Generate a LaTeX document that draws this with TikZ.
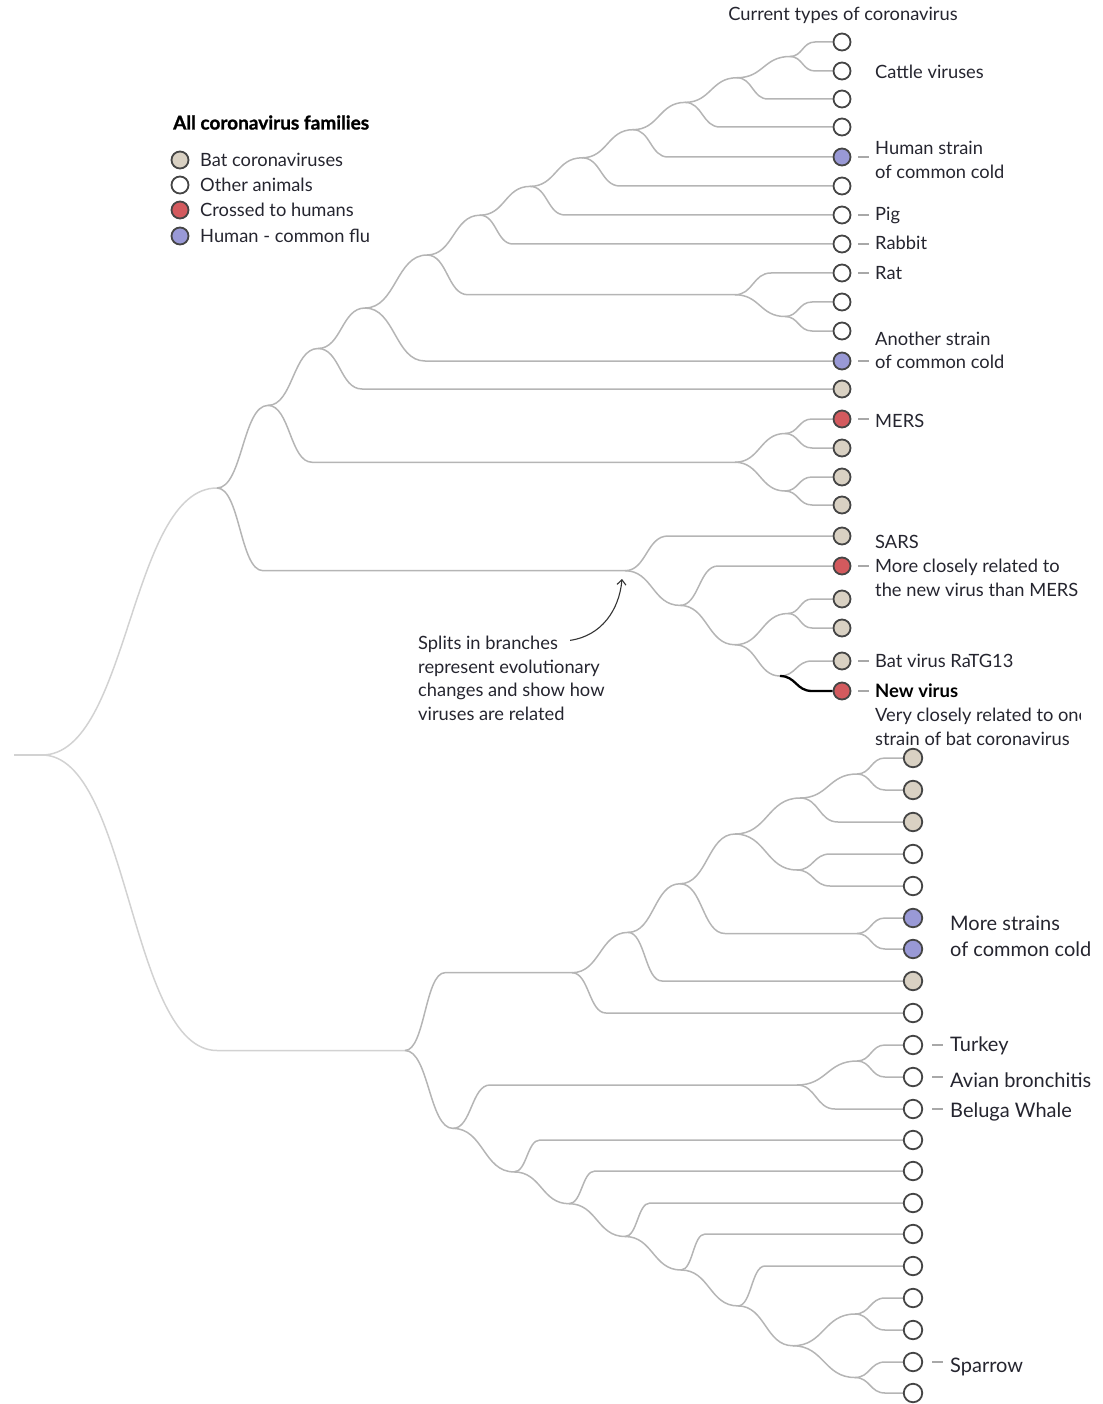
\documentclass[tikz,border=0pt]{standalone}
\usepackage{fontspec}
\setmainfont{Lato}
\newfontfamily\heavyfont{Lato}[BoldFeatures={FakeBold=1.2}]
\usetikzlibrary{calc,backgrounds,arrows.meta}
\definecolor{batc}{HTML}{D9D1C3}
\definecolor{redc}{HTML}{D35A5E}
\definecolor{bluc}{HTML}{9999D6}
\definecolor{edgec}{HTML}{B5B5B5}
\definecolor{rootc}{HTML}{D2D2D2}
\definecolor{ringc}{HTML}{454545}
\definecolor{txtc}{HTML}{25252F}
\definecolor{dashc}{HTML}{A8A8A8}
\definecolor{arrc}{HTML}{333333}
\newcommand\brlink[4][]{\draw[br,#1] let \p1=(#2),\p2=(#4) in (\p1) .. controls ({(\x1+#3pt)/2},\y1) and ({(\x1+#3pt)/2},\y2) .. ({#3pt},\y2) -- (#4);}
\begin{document}
\begin{tikzpicture}[x=1pt,y=-1pt,
  br/.style={draw=edgec,line width=1.5pt},
  leaf/.style={circle,draw=ringc,line width=1.8pt,minimum size=17pt,inner sep=0pt},
  leafb/.style={leaf,minimum size=18.5pt},
  lab/.style={anchor=base west,inner sep=0pt,text=txtc,font=\fontsize{18.3}{22}\selectfont},
  labb/.style={lab,font=\fontsize{20}{24}\selectfont},
  dashl/.style={draw=dashc,line width=1.2pt},
  annarr/.style={draw=arrc,line width=1.1pt,-{Straight Barb[length=5pt,width=9pt]}}]
\useasboundingbox (0,0) rectangle (1102,1404);

% ---------- legend ----------
\node[lab,font=\fontsize{19}{22}\heavyfont\bfseries,text=black] (legtitle) at (173,129.5) {All coronavirus families};
\node[leaf,fill=batc] (lg1) at (180,160) {};
\node[leaf,fill=white] (lg2) at (180,185) {};
\node[leaf,fill=redc] (lg3) at (180,210) {};
\node[leaf,fill=bluc] (lg4) at (180,236) {};
\node[lab] (lgt1) at (200,166.5) {Bat coronaviruses};
\node[lab] (lgt2) at (200,191.5) {Other animals};
\node[lab] (lgt3) at (200,216.5) {Crossed to humans};
\node[lab] (lgt4) at (200,242.5) {Human - common flu};

% ---------- header ----------
\node[lab,anchor=base] (header) at (843,20.5) {Current types of coronavirus};

% ---------- top leaves ----------
\foreach \n/\yy/\fc in {0/42/white,1/71/white,2/99/white,3/127/white,4/157/bluc,5/186/white,6/215/white,7/244/white,8/273/white,9/302/white,10/331/white,11/361/bluc,12/389/batc,13/419/redc,14/448/batc,15/477/batc,16/505/batc,17/536/batc,18/566/redc,19/599/batc,20/628/batc,21/661/batc,22/691/redc}
  \node[leaf,fill=\fc] (t\n) at (842,\yy) {};

% ---------- bottom leaves ----------
\foreach \n/\yy/\fc in {0/758/batc,1/790/batc,2/822/batc,3/854/white,4/886/white,5/918/bluc,6/949/bluc,7/981/batc,8/1013/white,9/1045/white,10/1077/white,11/1109/white,12/1140/white,13/1171/white,14/1203/white,15/1234/white,16/1266/white,17/1298/white,18/1330/white,19/1362/white,20/1393/white}
  \node[leafb,fill=\fc] (b\n) at (913,\yy) {};

% ---------- junctions ----------
\coordinate (stem) at (14,755);
\coordinate (root) at (42,755);
\coordinate (A) at (217,488);
\coordinate (B) at (268,405.4);
\coordinate (C) at (318,348.5);
\coordinate (D) at (365,308);
\coordinate (N10) at (427,255);
\coordinate (N7) at (480,215.2);
\coordinate (N6) at (530,186.4);
\coordinate (N5) at (582,157.8);
\coordinate (N4) at (633,129.7);
\coordinate (N3) at (685,102.4);
\coordinate (N2) at (737,77.75);
\coordinate (N1) at (790,56.5);
\coordinate (R) at (735,294.75);
\coordinate (R2) at (785,316.5);
\coordinate (M) at (735,462.25);
\coordinate (M1) at (785,433.5);
\coordinate (M2) at (785,491);
\coordinate (S) at (625,570.7);
\coordinate (S2) at (680,605.4);
\coordinate (S3) at (735,644.75);
\coordinate (S4) at (788,613.5);
\coordinate (S5) at (780,676);
\coordinate (Bt) at (405,1050.5);
\coordinate (Q8) at (572,972.7);
\coordinate (Q7) at (628,932.4);
\coordinate (Q6) at (680,883.75);
\coordinate (Q4) at (735,834);
\coordinate (Q2) at (800,798);
\coordinate (Q1) at (857,774);
\coordinate (Q34) at (797,870);
\coordinate (Q56) at (857,933.5);
\coordinate (L) at (453,1128.4);
\coordinate (T) at (797,1085);
\coordinate (T1) at (857,1061);
\coordinate (L2) at (514,1171.9);
\coordinate (L3) at (569,1203.7);
\coordinate (L4) at (625,1236.5);
\coordinate (L5) at (681,1270);
\coordinate (L6) at (738,1305.9);
\coordinate (L7) at (793,1345.75);
\coordinate (L8) at (855,1314);
\coordinate (L9) at (855,1377.5);

% ---------- branches ----------
\begin{pgfonlayer}{background}
\draw[br,draw=rootc] (stem) -- (root);
\brlink[draw=rootc]{root}{217}{A}
\brlink[draw=rootc]{root}{217}{Bt}
\foreach \ea/\eb/\ec in {A/268/B,A/263/S,B/318/C,B/312/M,C/365/D,C/362/t12,D/427/N10,D/425/t11,
  N10/480/N7,N10/468/R,N7/530/N6,N7/513/t7,N6/582/N5,N6/565/t6,N5/633/N4,N5/620/t5,
  N4/685/N3,N4/668/t4,N3/737/N2,N3/720/t3,N2/790/N1,N2/768/t2,N1/815/t0,N1/815/t1,
  R/771/t8,R/785/R2,R2/812/t9,R2/812/t10,M/785/M1,M/785/M2,M1/812/t13,M1/812/t14,M2/812/t15,M2/812/t16,
  S/668/t17,S/680/S2,S2/718/t18,S2/735/S3,S3/788/S4,S3/780/S5,S4/812/t19,S4/812/t20,S5/812/t21,
  Bt/445/Q8,Bt/453/L,Q8/628/Q7,Q8/606/b8,Q7/680/Q6,Q7/662/b7,Q6/735/Q4,Q6/725/Q56,
  Q4/800/Q2,Q4/797/Q34,Q2/857/Q1,Q2/838/b2,Q1/885/b0,Q1/885/b1,Q34/830/b3,Q34/830/b4,Q56/885/b5,Q56/885/b6,
  L/490/T,L/514/L2,T/857/T1,T/835/b11,T1/885/b9,T1/885/b10,
  L2/540/b12,L2/569/L3,L3/595/b13,L3/625/L4,L4/650/b14,L4/681/L5,L5/705/b15,L5/738/L6,L6/765/b16,L6/793/L7,
  L7/855/L8,L7/855/L9,L8/885/b17,L8/885/b18,L9/885/b19,L9/885/b20}
  {\brlink{\ea}{\eb}{\ec}}
\brlink[draw=black,line width=2.3pt]{S5}{812}{t22}
\end{pgfonlayer}

% ---------- label dashes ----------
\foreach \k in {t4,t6,t7,t8,t11,t13,t18,t21,t22}
  \draw[dashl] ([xshift=7pt]\k.east) -- ([xshift=18pt]\k.east);
\foreach \k in {b9,b10,b11,b19}
  \draw[dashl] ([xshift=9pt]\k.east) -- ([xshift=20pt]\k.east);

% ---------- top labels ----------
\node[lab] (lcattle) at (875,78.5) {Cattle viruses};
\node[lab] (lhum1) at (875,154.5) {Human strain};
\node[lab] (lhum2) at (875,178.5) {of common cold};
\node[lab] (lpig) at (875,220.5) {Pig};
\node[lab] (lrab) at (875,249.5) {Rabbit};
\node[lab] (lrat) at (875,279.5) {Rat};
\node[lab] (lano1) at (875,345.5) {Another strain};
\node[lab] (lano2) at (875,368.5) {of common cold};
\node[lab] (lmers) at (875,427.5) {MERS};
\node[lab] (lsars1) at (875,548.5) {SARS};
\node[lab] (lsars2) at (875,572.5) {More closely related to};
\node[lab] (lsars3) at (875,596.5) {the new virus than MERS};
\node[lab] (lratg) at (875,667.5) {Bat virus RaTG13};
\node[lab,font=\fontsize{18.5}{22}\selectfont\bfseries,text=black] (lnew) at (875,697.5) {New virus};
\begin{scope}
\clip (860,700) rectangle (1080,730);
\node[lab] (lvery) at (875,721.5) {Very closely related to one};
\end{scope}
\node[lab] (lstrain) at (875,745.5) {strain of bat coronavirus};

% ---------- bottom labels ----------
\node[labb] (lmore1) at (950,930) {More strains};
\node[labb] (lmore2) at (950,956) {of common cold};
\node[labb] (lturkey) at (950,1051) {Turkey};
\node[labb] (lavian) at (950,1087) {Avian bronchitis};
\node[labb] (lbeluga) at (950,1117) {Beluga Whale};
\node[labb] (lsparrow) at (950,1372) {Sparrow};

% ---------- annotation ----------
\node[lab] (ann1) at (418,649.5) {Splits in branches};
\node[lab] (ann2) at (418,673.5) {represent evolutionary};
\node[lab] (ann3) at (418,696.5) {changes and show how};
\node[lab] (ann4) at (418,720.5) {viruses are related};
\coordinate (tipS) at (622,579);
\draw[annarr] ([xshift=12pt,yshift=4pt]ann1.east) to[out=8,in=-95] (tipS);
\end{tikzpicture}
\end{document}
